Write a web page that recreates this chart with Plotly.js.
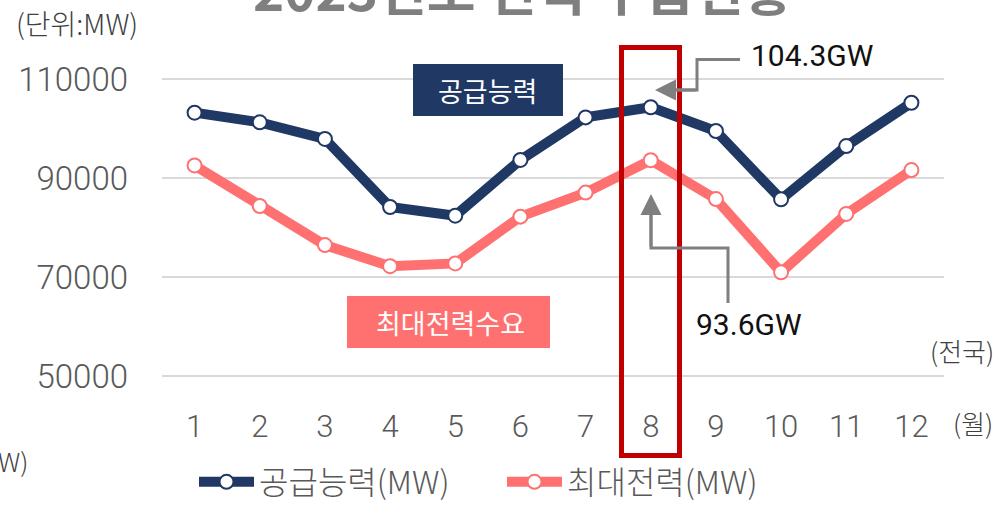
<!DOCTYPE html>
<html>
<head>
<meta charset="utf-8">
<script src="https://cdn.plot.ly/plotly-3.0.1.min.js"></script>
<style>html,body{margin:0;padding:0;background:#fff;}#chart{width:1002px;height:505px;}</style>
</head>
<body>
<div id="chart"></div>
<script>
const months = [1,2,3,4,5,6,7,8,9,10,11,12];
const monthLabels = ['1','2','3','4','5','6','7','8','9','10','11','12'];
const supply = [103200, 101250, 97900, 84150, 82400, 93650, 102250, 104300, 99500, 85700, 96450, 105200];
const peakDemand = [92550, 84350, 76450, 72200, 72750, 82200, 87050, 93600, 85750, 70950, 82750, 91600];
const yTicks = [50000, 70000, 90000, 110000];
const yTickLabels = ['50000', '70000', '90000', '110000'];

const NAVY = '#203864', SALMON = '#ff7171', RED = '#c00000', GREY = '#7f7f7f';
const L = 162, R = 944, T = 50, B = 400, W = 1002, H = 505;
const PX = x => (x - L) / (R - L);
const PY = y => (B - y) / (B - T);
const KR = '"Noto Sans CJK KR", "Noto Sans", sans-serif';
const NUM = 'Roboto, "Noto Sans", sans-serif';

const traces = [
  {x: months, y: supply, name: '공급능력(MW)', type: 'scatter', mode: 'lines+markers',
   line: {color: NAVY, width: 10}, marker: {size: 14, color: '#ffffff', line: {color: NAVY, width: 2}}},
  {x: months, y: peakDemand, name: '최대전력(MW)', type: 'scatter', mode: 'lines+markers',
   line: {color: SALMON, width: 10}, marker: {size: 14, color: '#ffffff', line: {color: SALMON, width: 2}}}
];

function txt(text, cx, cy, size, color, family, weight, anchor) {
  return {text: text, xref: 'paper', yref: 'paper', x: PX(cx), y: PY(cy), xanchor: anchor || 'center', yanchor: 'middle',
    showarrow: false, font: {size: size, color: color, family: family, weight: weight || 400}};
}
function seg(pts, color, width) {
  let d = pts.map((p, i) => (i ? 'L' : 'M') + PX(p[0]) + ',' + PY(p[1])).join(' ');
  return {type: 'path', xref: 'paper', yref: 'paper', path: d, line: {color: color, width: width}, layer: 'above'};
}

const shapes = [
  {type: 'rect', xref: 'paper', yref: 'paper', x0: PX(413), x1: PX(563), y0: PY(116), y1: PY(64), fillcolor: NAVY, line: {width: 0}, layer: 'above'},
  {type: 'rect', xref: 'paper', yref: 'paper', x0: PX(347), x1: PX(550), y0: PY(348), y1: PY(296), fillcolor: SALMON, line: {width: 0}, layer: 'above'},
  {type: 'rect', xref: 'paper', yref: 'paper', x0: PX(621.5), x1: PX(679.5), y0: PY(455.5), y1: PY(47.5), line: {color: RED, width: 5}, layer: 'above'},
  seg([[740, 59.5], [697, 59.5], [697, 90], [668, 90]], GREY, 3),
  seg([[728, 303], [728, 248], [651, 248], [651, 208]], GREY, 3)
];

const annotations = [
  txt('<b>2023년도 전력 수급현황</b>', 522, -12, 53, GREY, KR, 700),
  txt('(단위:MW)', 77, 23, 28, '#404040', KR, 300),
  txt('공급능력', 487, 90, 27, '#ffffff', KR, 400),
  txt('최대전력수요', 450, 322, 27, '#ffffff', KR, 400),
  txt('104.3GW', 812, 56, 30, '#111111', NUM, 400),
  txt('93.6GW', 749, 324, 30, '#111111', NUM, 400),
  txt('(전국)', 962, 350, 26, '#404040', KR, 300),
  txt('(월)', 973, 423, 26, '#404040', KR, 300),
  txt('W)', 13, 460, 26, '#404040', KR, 300),
  {text: '', xref: 'paper', yref: 'paper', x: PX(655), y: PY(90), ax: 42, ay: 0, axref: 'pixel', ayref: 'pixel',
   showarrow: true, arrowhead: 2, arrowsize: 1.4, arrowwidth: 3, arrowcolor: GREY},
  {text: '', xref: 'paper', yref: 'paper', x: PX(651), y: PY(194), ax: 0, ay: 54, axref: 'pixel', ayref: 'pixel',
   showarrow: true, arrowhead: 2, arrowsize: 1.4, arrowwidth: 3, arrowcolor: GREY}
];

const layout = {
  width: W, height: H,
  margin: {l: L, r: W - R, t: T, b: H - B, pad: 0, autoexpand: false},
  paper_bgcolor: '#ffffff', plot_bgcolor: '#ffffff',
  showlegend: true,
  legend: {orientation: 'h', x: PX(194), xanchor: 'left', y: PY(482), yanchor: 'middle',
    font: {size: 32, color: '#595959', family: KR, weight: 300}, itemwidth: 55,
    entrywidth: 238, entrywidthmode: 'pixels', tracegroupgap: 0, bgcolor: 'rgba(0,0,0,0)'},
  xaxis: {type: 'linear', range: [0.5, 12.5], tickmode: 'array', tickvals: months, ticktext: monthLabels,
    showgrid: false, zeroline: false, showline: false, ticks: '', ticklabelstandoff: 5,
    tickfont: {size: 31, color: '#595959', family: NUM, weight: 300}, fixedrange: true},
  yaxis: {range: [45160, 115860], tickmode: 'array', tickvals: yTicks, ticktext: yTickLabels,
    showgrid: true, gridcolor: '#d9d9d9', gridwidth: 2, zeroline: false, showline: false, ticks: '',
    ticklabelstandoff: 33, tickfont: {size: 33, color: '#595959', family: NUM, weight: 300}, fixedrange: true},
  shapes: shapes,
  annotations: annotations
};

Plotly.newPlot('chart', traces, layout, {displayModeBar: false, staticPlot: true});
</script>
</body>
</html>
